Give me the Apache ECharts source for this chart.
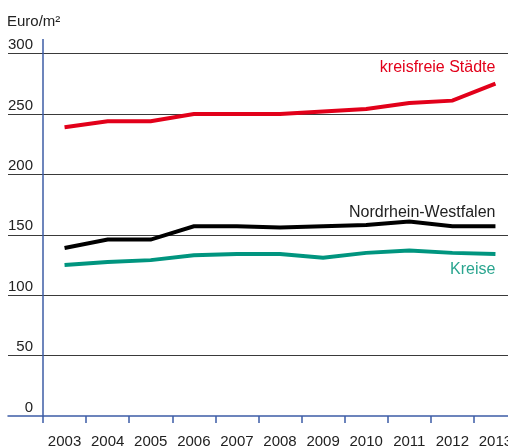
<!DOCTYPE html>
<html>
<head>
<meta charset="utf-8">
<script src="https://cdn.jsdelivr.net/npm/echarts@6/dist/echarts.min.js"></script>
<style>
  html, body { margin: 0; padding: 0; background: #fff; }
  #chart { width: 508px; height: 447px; }
</style>
</head>
<body>
<div id="chart"></div>
<script>
// Jahre
const years = ['2003', '2004', '2005', '2006', '2007', '2008', '2009', '2010', '2011', '2012', '2013'];
// Euro/m² je Gebietstyp
const kreisfreieStaedte = [239, 244, 244, 250, 250, 250, 252, 254, 259, 261, 275];
const nrw = [139, 146, 146, 157, 157, 156, 157, 158, 161, 157, 157];
const kreise = [125, 127.5, 129, 133, 134, 134, 131, 135, 137, 135, 134];
const yTicks = [0, 50, 100, 150, 200, 250, 300];

const axisBlue = '#3d5ca6';
const textColor = '#222';
const font = 'Liberation Sans, Arial, sans-serif';

const myChart = echarts.init(document.getElementById('chart'));

const lineSeries = (name, data, color, labelColor, offsetY, vAlign) => ({
  name: name,
  type: 'line',
  xAxisIndex: 1,
  yAxisIndex: 1,
  data: data,
  symbol: 'none',
  lineStyle: { color: color, width: 4, join: 'miter' },
  itemStyle: { color: color },
  endLabel: {
    show: true,
    formatter: name,
    align: 'right',
    verticalAlign: vAlign,
    distance: 0,
    offset: [0, offsetY],
    color: labelColor,
    fontSize: 16,
    fontFamily: font
  }
});

const option = {
  animation: false,
  backgroundColor: '#fff',
  title: {
    text: 'Euro/m²',
    left: 7,
    top: 14,
    padding: 0,
    textStyle: { color: textColor, fontSize: 15, fontWeight: 'normal', fontFamily: font }
  },
  grid: [
    // Raster mit Hilfslinien ab linkem Rand
    { left: 8, right: 0, top: 53.5, bottom: 31, outerBoundsMode: 'none' },
    // Datenbereich
    { left: 43, width: 474, top: 53.5, bottom: 31, outerBoundsMode: 'none' }
  ],
  xAxis: [
    {
      gridIndex: 0,
      type: 'value',
      min: 0,
      max: 1,
      axisLine: { show: true, onZero: false, lineStyle: { color: axisBlue, width: 1.5 } },
      axisTick: { show: false },
      axisLabel: { show: false },
      splitLine: { show: false }
    },
    {
      gridIndex: 1,
      type: 'category',
      data: years,
      boundaryGap: true,
      axisLine: { show: false },
      axisTick: { show: true, length: 7, lineStyle: { color: axisBlue, width: 1.5 } },
      axisLabel: { color: textColor, fontSize: 15, fontFamily: font, margin: 18, interval: 0 }
    }
  ],
  yAxis: [
    {
      gridIndex: 0,
      type: 'value',
      min: yTicks[0],
      max: yTicks[yTicks.length - 1],
      interval: 50,
      axisLine: { show: false },
      axisTick: { show: false },
      axisLabel: {
        inside: true,
        margin: 25,
        align: 'right',
        verticalAlign: 'bottom',
        padding: [0, 0, 1, 0],
        color: textColor,
        fontSize: 15,
        fontFamily: font
      },
      splitLine: { show: true, showMinLine: false, lineStyle: { color: '#3a3a3a', width: 1 } }
    },
    {
      gridIndex: 1,
      type: 'value',
      min: yTicks[0],
      max: yTicks[yTicks.length - 1],
      interval: 50,
      axisLine: { show: true, lineStyle: { color: axisBlue, width: 1.5 } },
      axisTick: { show: false },
      axisLabel: { show: false },
      splitLine: { show: false }
    }
  ],
  graphic: [
    // Achse ragt etwas über 300 hinaus
    { type: 'line', shape: { x1: 43, y1: 39, x2: 43, y2: 54 }, style: { stroke: axisBlue, lineWidth: 1.5 } }
  ],
  series: [
    lineSeries('kreisfreie Städte', kreisfreieStaedte, '#e2001a', '#e2001a', -8, 'bottom'),
    lineSeries('Nordrhein-Westfalen', nrw, '#000000', '#222222', -6, 'bottom'),
    lineSeries('Kreise', kreise, '#00957f', '#2aa58f', 8, 'top')
  ]
};

myChart.setOption(option);
</script>
</body>
</html>
